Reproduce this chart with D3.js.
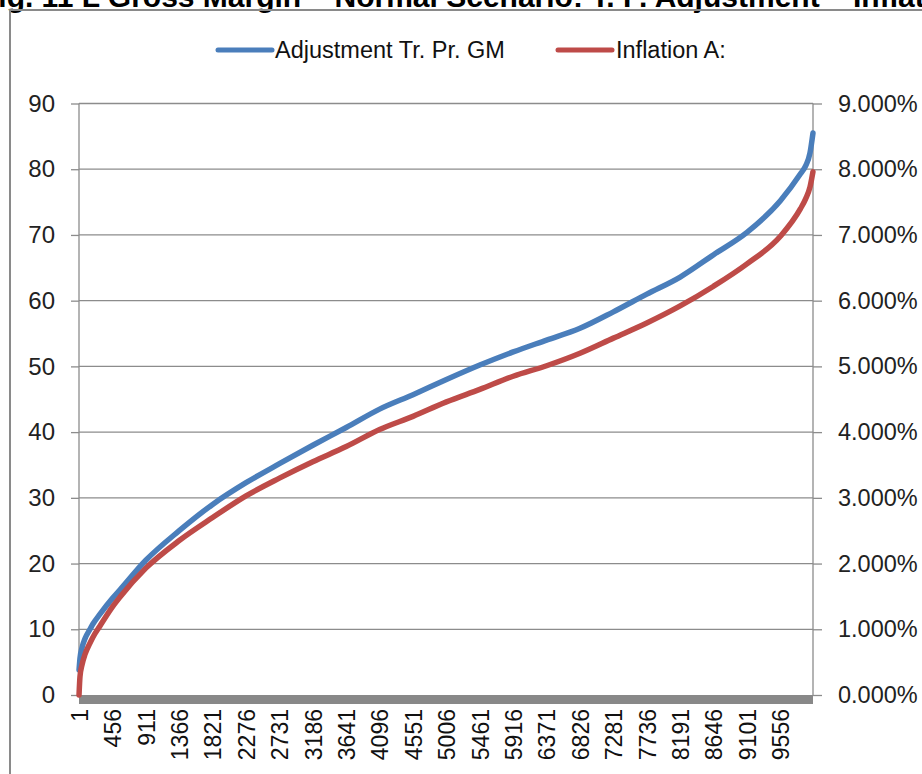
<!DOCTYPE html>
<html><head><meta charset="utf-8">
<script src="https://cdn.jsdelivr.net/npm/d3@7"></script>
<style>html,body{margin:0;padding:0;background:#fff;}svg{display:block;}</style>
</head><body>
<svg id="c" width="922" height="774"></svg>
<script>
// ---- data ----
const titleText = "Fig. 11 L Gross Margin – Normal Scenario: T. P. Adjustment – Inflation";
const titlePrefix = "Fig. 11 L ";
const seriesNames = ["Adjustment Tr. Pr. GM", "Inflation A:"];
const sampleIndex = [1, 14, 42, 83, 150, 190, 286, 456, 559, 911, 1366, 1821, 2276, 2731, 3186, 3641, 4096, 4551, 5006, 5461, 5916, 6371, 6826, 7281, 7736, 8191, 8646, 9101, 9556, 9830, 9900, 9960, 10000];
const adjustmentGM = [3.8, 5.6, 7.2, 8.6, 10.0, 10.8, 12.3, 14.7, 16.0, 20.5, 25, 29, 32.3, 35.2, 38, 40.7, 43.5, 45.7, 48, 50.2, 52.2, 54, 55.8, 58.3, 61, 63.6, 67, 70.4, 75.2, 79.3, 80.5, 82.5, 85.5];
const inflationA = [0, 0.0028, 0.0046, 0.0062, 0.0079, 0.0088, 0.0105, 0.0134, 0.0149, 0.0193, 0.0235, 0.027, 0.0303, 0.033, 0.0355, 0.0378, 0.0404, 0.0424, 0.0446, 0.0465, 0.0485, 0.0501, 0.052, 0.0543, 0.0566, 0.0592, 0.0622, 0.0656, 0.0698, 0.074, 0.0755, 0.0773, 0.0796];
const nCategories = 10000;
const xTickLabels = [1, 456, 911, 1366, 1821, 2276, 2731, 3186, 3641, 4096, 4551, 5006, 5461, 5916, 6371, 6826, 7281, 7736, 8191, 8646, 9101, 9556];
const leftTicks = [0, 10, 20, 30, 40, 50, 60, 70, 80, 90];
const rightTicks = [0, 0.01, 0.02, 0.03, 0.04, 0.05, 0.06, 0.07, 0.08, 0.09];

// ---- layout ----
const svg = d3.select("#c");
const L = 79, R = 813, T = 103.5, B = 695;
const font = "'Liberation Sans', Arial, sans-serif";
const blue = "#4A7EBB", red = "#BE4B48", grid = "#8c8c8c";

const x = d3.scaleLinear().domain([0.5, nCategories + 0.5]).range([L, R]);
const yL = d3.scaleLinear().domain([0, 90]).range([B, T]);
const yR = d3.scaleLinear().domain([0, 0.09]).range([B, T]);

// title (cut off at top, as in the reference)
const tmp = svg.append("text").attr("font-family", font).attr("font-weight", "bold").attr("font-size", 30).text(titlePrefix);
const pw = tmp.node().getComputedTextLength(); tmp.remove();
svg.append("text").attr("x", 100 - pw).attr("y", 7).attr("font-family", font).attr("font-weight", "bold")
  .attr("font-size", 30).attr("fill", "#000").text(titleText);

// frame
svg.append("rect").attr("x", 10).attr("y", 10).attr("width", 1000).attr("height", 900)
  .attr("fill", "none").attr("stroke", "#8a8a8a").attr("stroke-width", 2);

// gridlines
svg.append("g").selectAll("line").data(leftTicks.filter(d => d > 0)).join("line")
  .attr("x1", L).attr("x2", R).attr("y1", d => yL(d)).attr("y2", d => yL(d))
  .attr("stroke", grid).attr("stroke-width", 1.3);

// left axis
const gl = svg.append("g").attr("transform", `translate(${L},0)`)
  .call(d3.axisLeft(yL).tickValues(leftTicks).tickSize(8).tickPadding(16).tickFormat(d3.format("d")));
gl.selectAll("path,line").attr("stroke", grid).attr("stroke-width", 1.3);
gl.select(".domain").attr("d", `M0,${T}V${B}`);
gl.selectAll("text").attr("font-family", font).attr("font-size", 24).attr("fill", "#222");

// right axis
const gr = svg.append("g").attr("transform", `translate(${R},0)`)
  .call(d3.axisRight(yR).tickValues(rightTicks).tickSize(9).tickPadding(16).tickFormat(d3.format(".3%")));
gr.selectAll("path,line").attr("stroke", grid).attr("stroke-width", 1.3);
gr.select(".domain").attr("d", `M0,${T}V${B}`);
gr.selectAll("text").attr("font-family", font).attr("font-size", 23.5).attr("fill", "#222");

// bottom axis (dense category ticks appear as a thick bar)
svg.append("rect").attr("x", L).attr("y", B).attr("width", R - L).attr("height", 9).attr("fill", "#888");
const gb = svg.append("g").attr("transform", `translate(0,${B})`)
  .call(d3.axisBottom(x).tickValues(xTickLabels).tickSize(0).tickFormat(d3.format("d")));
gb.select(".domain").remove();
gb.selectAll("text").attr("font-family", font).attr("font-size", 23).attr("fill", "#111")
  .attr("text-anchor", "end").attr("transform", "rotate(-90)")
  .attr("x", -14).attr("y", 0).attr("dy", "0.36em");

// lines
const line = (ys, scale) => d3.line().x((d, i) => x(sampleIndex[i])).y(d => scale(d)).curve(d3.curveMonotoneX)(ys);
svg.append("path").attr("d", line(adjustmentGM, yL)).attr("fill", "none").attr("stroke", blue)
  .attr("stroke-width", 5.5).attr("stroke-linecap", "round").attr("stroke-linejoin", "round");
svg.append("path").attr("d", line(inflationA, yR)).attr("fill", "none").attr("stroke", red)
  .attr("stroke-width", 5.5).attr("stroke-linecap", "round").attr("stroke-linejoin", "round");

// legend
const lg = svg.append("g");
const items = [{name: seriesNames[0], c: blue, x1: 218, x2: 272, tx: 275}, {name: seriesNames[1], c: red, x1: 558, x2: 612, tx: 616}];
items.forEach(it => {
  lg.append("line").attr("x1", it.x1).attr("x2", it.x2).attr("y1", 50).attr("y2", 50)
    .attr("stroke", it.c).attr("stroke-width", 5).attr("stroke-linecap", "round");
  lg.append("text").attr("x", it.tx).attr("y", 58).attr("font-family", font).attr("font-size", 23.5)
    .attr("fill", "#111").text(it.name);
});
</script>
</body></html>
